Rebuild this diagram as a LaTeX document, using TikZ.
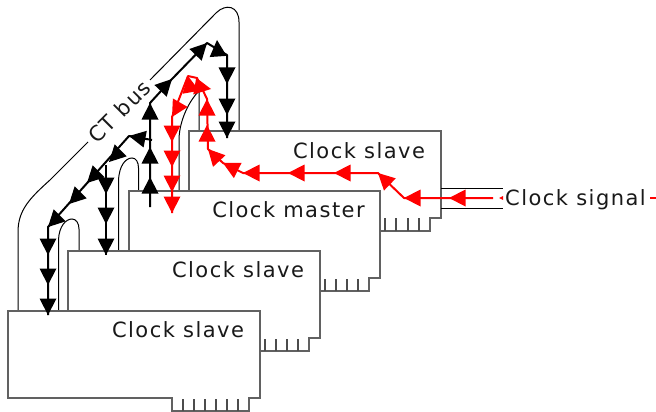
\documentclass[tikz,border=0pt]{standalone}
\usepackage{fontspec}
\setmainfont[LetterSpace=7]{DejaVu Sans}
\tikzset{
  x=1pt,y=-1pt,
  card/.style={draw=black!62,line width=1.3pt,line join=miter},
  cardfill/.style={fill=white},
  pin/.style={draw=black!70,line width=1.2pt},
  bus/.style={draw=black,line width=1pt},
  blackflow/.style={draw=black,line width=2pt,line join=round},
  redflow/.style={draw=red,line width=2pt,line join=round},
  lbl/.style={font=\fontsize{21}{24}\selectfont,text=black!90,inner sep=0pt,anchor=base},
}
\newcommand{\hd}[4]{\fill[#1,shift={(#2,#3)},rotate=#4] (0,0) -- (-16.5,8.5) -- (-16.5,-8.5) -- cycle;}
\newcommand{\teeth}[3]{\foreach \tx in {#1}{\draw[pin] (\tx,#2) -- (\tx,#3);}}
\begin{document}
\begin{tikzpicture}
\useasboundingbox (0,0) rectangle (656,412);
% bus outlines
\coordinate (busA) at (18,311);
\coordinate (busB) at (88,142);
\coordinate (busC) at (150,80);
\coordinate (busD) at (239,131);
\draw[bus] (busA) -- (18,232) .. controls (18,210) and (30,198) .. (50,180) -- (busB);
\draw[bus] (busC) -- (216,13) .. controls (226,3) and (239,6) .. (239,22) -- (busD);
\draw[bus] (179,191) -- (179,140) .. controls (179,125) and (186,105) .. (198,92) -- (199,92) -- (199,131);
\draw[bus] (118.5,251) -- (118.5,181) .. controls (119,165) and (126,158) .. (132,158) .. controls (136,158) and (138.5,162) .. (138.5,168) -- (138.5,191);
\draw[bus] (58.5,311) -- (58.5,240) .. controls (59,226) and (66,219) .. (72,219) .. controls (76,219) and (79,223) .. (79,229) -- (79,251);
% cards, back to front
\draw[card,cardfill] (189,231) -- (189,131) -- (441,131) -- (441,218) -- (430,218) -- (430,231) -- cycle;
\teeth{385,396,408,419}{218}{231}
\draw[card,cardfill] (129,291) -- (129,191) -- (380,191) -- (380,278) -- (369,278) -- (369,291) -- cycle;
\teeth{325,336,347,358}{279}{291}
\draw[card,cardfill] (68,351) -- (68,251) -- (320,251) -- (320,338) -- (309,338) -- (309,351) -- cycle;
\teeth{265,276,287,298}{339}{351}
\draw[card,cardfill] (8,398) -- (8,311) -- (260,311) -- (260,398) -- (249,398) -- (249,411) -- (172,411) -- (172,398) -- cycle;
\teeth{183,194,205,216,227,238}{399}{411}
% clock signal inputs
\coordinate (inT) at (441,188);
\coordinate (inB) at (441,208);
\draw[bus] (inT) -- (503,188);
\draw[bus] (inB) -- (503,208);
% labels
\node[lbl] (s4) at (359,158) {Clock slave};
\node[lbl] (m) at (288.5,217) {Clock master};
\node[lbl] (s2) at (238,277) {Clock slave};
\node[lbl] (s1) at (178,337) {Clock slave};
\node[lbl] (sig) at (575.5,205.5) {Clock signal};
\node[lbl,rotate=45] (ct) at (125,117) {CT bus};
% black flow
\coordinate (b0) at (150,207);
\coordinate (b1) at (150,103);
\coordinate (b2) at (172,79);
\coordinate (b3) at (207,43);
\coordinate (b4) at (227,55);
\coordinate (b5) at (227,138);
\draw[blackflow] (b0) -- (b1) -- (b2) -- (b3) -- (b4) -- (b5);
\coordinate (c0) at (152,140);
\coordinate (c1) at (129,136);
\coordinate (c2) at (48,227);
\coordinate (c3) at (48,315);
\draw[blackflow] (c0) -- (c1) -- (c2) -- (c3);
\coordinate (d0) at (106,165);
\coordinate (d1) at (106,255);
\draw[blackflow] (d0) -- (d1);
\hd{black}{150}{177}{90}\hd{black}{150}{147}{90}\hd{black}{150}{103}{90}
\hd{black}{172}{79}{46}\hd{black}{207}{43}{46}\hd{black}{217}{40}{94}
\hd{black}{227}{84}{-90}\hd{black}{227}{115}{-90}\hd{black}{227}{138}{-90}
\hd{black}{129}{136}{169}
\hd{black}{109}{162}{225}\hd{black}{87}{183}{225}\hd{black}{69}{204}{225}\hd{black}{48}{227}{225}
\hd{black}{48}{255}{-90}\hd{black}{48}{285}{-90}\hd{black}{48}{315}{-90}
\hd{black}{106}{194}{-90}\hd{black}{106}{224}{-90}\hd{black}{106}{255}{-90}
% red flow
\coordinate (r0) at (493,198);
\coordinate (r1) at (404,198);
\coordinate (r2) at (378,173);
\coordinate (r3) at (243,173);
\coordinate (r4) at (223,163);
\coordinate (r5) at (208,149);
\coordinate (r6) at (207,99);
\coordinate (r7) at (197,78);
\coordinate (r8) at (188,76);
\coordinate (r9) at (172,117);
\coordinate (r10) at (172,213);
\draw[redflow] (r0) -- (r1) -- (r2) -- (r3) -- (r4) -- (r5) -- (r6) -- (r7) -- (r8) -- (r9) -- (r10);
\coordinate (r11) at (650,198);
\coordinate (r12) at (656,198);
\draw[redflow] (r11) -- (r12);
\fill[red] (499,198) -- (503,196) -- (503,200) -- cycle;
\hd{red}{449}{198}{180}\hd{red}{404}{198}{180}\hd{red}{378}{173}{136}
\hd{red}{334}{173}{180}\hd{red}{288}{173}{180}\hd{red}{243}{173}{180}
\hd{red}{223}{163}{153}\hd{red}{208}{149}{133}
\hd{red}{207}{125}{90}\hd{red}{207}{99}{90}
\hd{red}{211}{89}{-10}\hd{red}{188}{76}{100}\hd{red}{172}{117}{240}
\hd{red}{172}{142}{-90}\hd{red}{172}{167}{-90}\hd{red}{172}{192}{-90}\hd{red}{172}{213}{-90}
\end{tikzpicture}
\end{document}
